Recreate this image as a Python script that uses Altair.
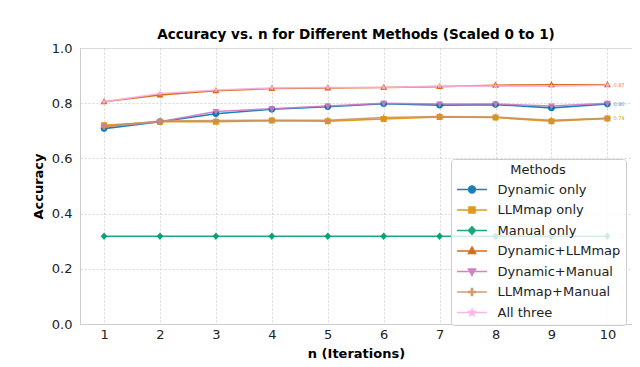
import altair as alt
import pandas as pd

n_values = [1, 2, 3, 4, 5, 6, 7, 8, 9, 10]
methods = ["Dynamic only", "LLMmap only", "Manual only", "Dynamic+LLMmap",
           "Dynamic+Manual", "LLMmap+Manual", "All three"]
dynamic_only = [0.708, 0.733, 0.762, 0.778, 0.787, 0.798, 0.793, 0.795, 0.783, 0.797]
llmmap_only = [0.720, 0.733, 0.733, 0.737, 0.735, 0.743, 0.750, 0.748, 0.735, 0.745]
manual_only = [0.318] * 10
dynamic_llmmap = [0.805, 0.830, 0.845, 0.853, 0.855, 0.857, 0.860, 0.865, 0.867, 0.867]
dynamic_manual = [0.715, 0.733, 0.770, 0.780, 0.790, 0.800, 0.797, 0.797, 0.790, 0.800]
llmmap_manual = [0.715, 0.735, 0.737, 0.738, 0.738, 0.748, 0.752, 0.750, 0.738, 0.745]
all_three = [0.805, 0.835, 0.848, 0.855, 0.857, 0.857, 0.862, 0.862, 0.862, 0.865]
series = [dynamic_only, llmmap_only, manual_only, dynamic_llmmap,
          dynamic_manual, llmmap_manual, all_three]
colors = ["#0173B2", "#DE8F05", "#029E73", "#D55E00", "#CC78BC", "#CA9161", "#FBAFE4"]
# marker outlines plus a horizontal stroke (only stroked in the legend)
seg = "M-2,0L2,0"
shapes = [
    seg + "M0.45,0A0.45,0.45,0,1,1,-0.45,0A0.45,0.45,0,1,1,0.45,0Z",
    seg + "M-0.4,-0.4L0.4,-0.4L0.4,0.4L-0.4,0.4Z",
    seg + "M0,-0.5L0.45,0L0,0.5L-0.45,0Z",
    seg + "M0,-0.5L0.46,0.33L-0.46,0.33Z",
    seg + "M0,0.5L0.46,-0.33L-0.46,-0.33Z",
    seg + "M-0.07,-0.45L0.07,-0.45L0.07,-0.07L0.45,-0.07L0.45,0.07L0.07,0.07L0.07,0.45L-0.07,0.45"
    "L-0.07,0.07L-0.45,0.07L-0.45,-0.07L-0.07,-0.07Z",
    seg + "M0,-0.42L0.1,-0.13L0.4,-0.13L0.16,0.05L0.25,0.35L0,0.17L-0.25,0.35L-0.16,0.05"
    "L-0.4,-0.13L-0.1,-0.13Z",
]

rows = []
for m, vals in zip(methods, series):
    for n, v in zip(n_values, vals):
        rows.append({"n": n, "Accuracy": v, "Method": m})
df = pd.DataFrame(rows)

end_labels = ["0.87", "0.80", "0.74", "0.32"]
end_vals = [0.867, 0.798, 0.745, 0.318]
end_colors = ["#E0805A", "#6A7FC8", "#DE8F05", "#9fdcc8"]
lab_df = pd.DataFrame({"n": [10] * 4, "Accuracy": end_vals, "label": end_labels, "c": end_colors})

font = "DejaVu Sans"
x = alt.X("n:Q", title="n (Iterations)",
          scale=alt.Scale(domain=[0.57, 10.44], nice=False, zero=False),
          axis=alt.Axis(values=n_values, format="d", gridDash=[2, 2], gridColor="#d6d6d6",
                        labelFontSize=13, titleFontSize=13, titleFontWeight="bold",
                        domainColor="#cccccc", labelColor="#222222",
                        labelPadding=4, tickSize=0, titlePadding=6))
y = alt.Y("Accuracy:Q", title="Accuracy",
          scale=alt.Scale(domain=[0, 1], nice=False),
          axis=alt.Axis(values=[0, 0.2, 0.4, 0.6, 0.8, 1.0], format=".1f", gridDash=[2, 2],
                        gridColor="#d6d6d6", labelFontSize=13, titleFontSize=13,
                        titleFontWeight="bold", domainColor="#cccccc", tickSize=0,
                        labelPadding=8, labelColor="#222222", titlePadding=6))

legend = alt.Legend(title="Methods", orient="none", legendX=371, legendY=111, padding=5,
                    fillColor="rgba(255,255,255,0.8)", strokeColor="#cccccc", cornerRadius=3,
                    titleFontSize=13, titleFontWeight="normal", titleAnchor="middle",
                    titleColor="#222222", labelColor="#222222", labelFontSize=13,
                    symbolSize=225, symbolStrokeWidth=1.6, symbolOffset=7.5, labelOffset=17,
                    rowPadding=4.5, titlePadding=4, zindex=1)

stroke_lines = alt.Stroke("Method:N", scale=alt.Scale(domain=methods, range=colors), legend=legend)
color_pts = alt.Color("Method:N", scale=alt.Scale(domain=methods, range=colors), legend=legend)
shape_pts = alt.Shape("Method:N", scale=alt.Scale(domain=methods, range=shapes), legend=legend)

lines = alt.Chart(df).mark_line(strokeWidth=1.6, opacity=0.9).encode(
    x=x, y=y, stroke=stroke_lines, detail="Method:N")
points = alt.Chart(df).mark_point(filled=True, size=225, opacity=0.95).encode(
    x=x, y=y, color=color_pts, shape=shape_pts)
labels = alt.Chart(lab_df).mark_text(align="left", dx=6, fontSize=5, font=font).encode(
    x=x, y=y, text="label:N", color=alt.Color("c:N", scale=None))

chart = (lines + points + labels).properties(
    width=552, height=276,
    padding={"left": 24, "top": 20, "right": 0, "bottom": 0},
    title=alt.Title("Accuracy vs. n for Different Methods (Scaled 0 to 1)", fontSize=13.6,
                    fontWeight="bold", font=font, offset=0)
).configure(font=font).configure_view(stroke="#dddddd").configure_axis(labelFont=font, titleFont=font)

chart.save("out.html", embed_options={"renderer": "svg", "actions": False})
